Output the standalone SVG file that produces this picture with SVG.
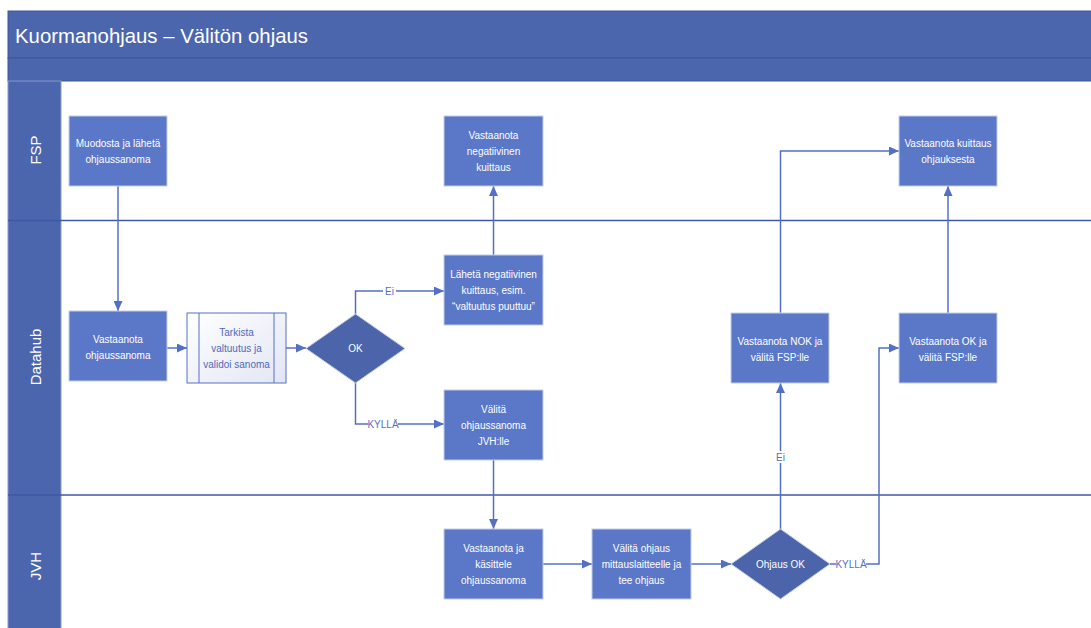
<svg xmlns="http://www.w3.org/2000/svg" width="1091" height="628" viewBox="0 0 1091 628">
<defs>
<marker id="arr" markerUnits="userSpaceOnUse" markerWidth="10" markerHeight="9" refX="10" refY="4.5" orient="auto">
<path d="M0,0 L10,4.5 L0,9 z" fill="#5470c6"/>
</marker>
<linearGradient id="sub" x1="0" y1="0" x2="1" y2="1">
<stop offset="0" stop-color="#ffffff"/>
<stop offset="1" stop-color="#e2e6f5"/>
</linearGradient>
<style>
.band{fill:#4c66ad;stroke:#3e559a;stroke-width:1}
.hdr{fill:#4c66ad;stroke:#8a9bd0;stroke-width:1}
.div{stroke:#3f58a3;stroke-width:1.5}
.lane text{fill:#fff;font-family:"Liberation Sans",Arial,sans-serif;font-size:15px;text-anchor:middle;dominant-baseline:central}
.node rect{fill:#5b77c8;stroke:#c3cdec;stroke-width:1}
.node polygon{fill:#4b64aa;stroke:#c3cdec;stroke-width:1}
.node text{fill:#fff;font-family:"Liberation Sans",Arial,sans-serif;font-size:10px;text-anchor:middle;dominant-baseline:central}
.sub rect.o{fill:url(#sub);stroke:#5470c6;stroke-width:1}
.sub line{stroke:#5470c6;stroke-width:1}
.sub text{fill:#4f6ab9}
.conn path{stroke:#5470c6;stroke-width:1.5;fill:none;marker-end:url(#arr)}
.lbl rect{fill:#fff}
.lbl text{fill:#5470c6;font-family:"Liberation Sans",Arial,sans-serif;font-size:10px;text-anchor:middle;dominant-baseline:central}
</style>
</defs>
<rect width="1091" height="628" fill="#fff"/>
<g id="title">
<rect class="band" x="8" y="11" width="1090" height="47"/>
<rect class="band" x="8" y="58" width="1090" height="23"/>
<text x="15" y="43" fill="#fff" font-family="Liberation Sans,Arial,sans-serif" font-size="21" textLength="293" lengthAdjust="spacingAndGlyphs">Kuormanohjaus – Välitön ohjaus</text>
</g>
<g id="lanes" class="lane">
<rect class="hdr" x="8" y="81" width="53" height="560"/>
<line class="div" x1="8" y1="220.5" x2="1091" y2="220.5"/>
<line class="div" x1="8" y1="495" x2="1091" y2="495"/>
<text transform="translate(35,150) rotate(-90)">FSP</text>
<text transform="translate(35,357) rotate(-90)">Datahub</text>
<text transform="translate(35,566) rotate(-90)">JVH</text>
</g>
<g id="connectors" class="conn">
<path d="M118,186 V311"/>
<path d="M167,348 H187"/>
<path d="M286,348 H306"/>
<path d="M355.5,314 V291 H444"/>
<path d="M355.5,383 V424 H444"/>
<path d="M493.5,255 V186"/>
<path d="M493.5,460 V529"/>
<path d="M543,564 H592"/>
<path d="M691,564 H731"/>
<path d="M780.5,529 V383"/>
<path d="M780.5,313 V151 H899"/>
<path d="M830,564 H879 V348 H899"/>
<path d="M948,313 V186"/>
</g>
<g id="labels" class="lbl">
<rect x="383" y="285" width="13" height="12"/><text x="389.5" y="291">Ei</text>
<rect x="368" y="418" width="30" height="12"/><text x="383" y="424">KYLLÄ</text>
<rect x="774" y="451" width="13" height="12"/><text x="780.5" y="457">Ei</text>
<rect x="836" y="558" width="30" height="12"/><text x="851" y="564">KYLLÄ</text>
</g>
<g id="n1" class="node"><rect x="69" y="116" width="98" height="70"/>
<text x="118" y="143">Muodosta ja lähetä</text><text x="118" y="159">ohjaussanoma</text></g>
<g id="n2" class="node"><rect x="444" y="116" width="99" height="70"/>
<text x="493.5" y="135">Vastaanota</text><text x="493.5" y="151">negatiivinen</text><text x="493.5" y="167">kuittaus</text></g>
<g id="n3" class="node"><rect x="899" y="116" width="98" height="70"/>
<text x="948" y="143">Vastaanota kuittaus</text><text x="948" y="159">ohjauksesta</text></g>
<g id="n4" class="node"><rect x="69" y="311" width="98" height="70"/>
<text x="118" y="339">Vastaanota</text><text x="118" y="355">ohjaussanoma</text></g>
<g id="n5" class="node sub"><rect class="o" x="187" y="313" width="99" height="70"/>
<line x1="199" y1="313" x2="199" y2="383"/><line x1="274" y1="313" x2="274" y2="383"/>
<text x="236.5" y="332">Tarkista</text><text x="236.5" y="348">valtuutus ja</text><text x="236.5" y="364">validoi sanoma</text></g>
<g id="n6" class="node"><polygon points="306,348.5 355.5,314 405,348.5 355.5,383"/>
<text x="355.5" y="348.5">OK</text></g>
<g id="n7" class="node"><rect x="444" y="255" width="99" height="70"/>
<text x="493.5" y="274">Lähetä negatiivinen</text><text x="493.5" y="290">kuittaus, esim.</text><text x="493.5" y="306">“valtuutus puuttuu”</text></g>
<g id="n8" class="node"><rect x="444" y="390" width="99" height="70"/>
<text x="493.5" y="409">Välitä</text><text x="493.5" y="425">ohjaussanoma</text><text x="493.5" y="441">JVH:lle</text></g>
<g id="n9" class="node"><rect x="731" y="313" width="98" height="70"/>
<text x="780" y="341">Vastaanota NOK ja</text><text x="780" y="357">välitä FSP:lle</text></g>
<g id="n10" class="node"><rect x="899" y="313" width="98" height="70"/>
<text x="948" y="341">Vastaanota OK ja</text><text x="948" y="357">välitä FSP:lle</text></g>
<g id="n11" class="node"><rect x="444" y="529" width="99" height="70"/>
<text x="493.5" y="548">Vastaanota ja</text><text x="493.5" y="564">käsittele</text><text x="493.5" y="580">ohjaussanoma</text></g>
<g id="n12" class="node"><rect x="592" y="529" width="99" height="70"/>
<text x="641.5" y="548">Välitä ohjaus</text><text x="641.5" y="564">mittauslaitteelle ja</text><text x="641.5" y="580">tee ohjaus</text></g>
<g id="n13" class="node"><polygon points="731,564 780.5,529 830,564 780.5,599"/>
<text x="780.5" y="564">Ohjaus OK</text></g>
</svg>
